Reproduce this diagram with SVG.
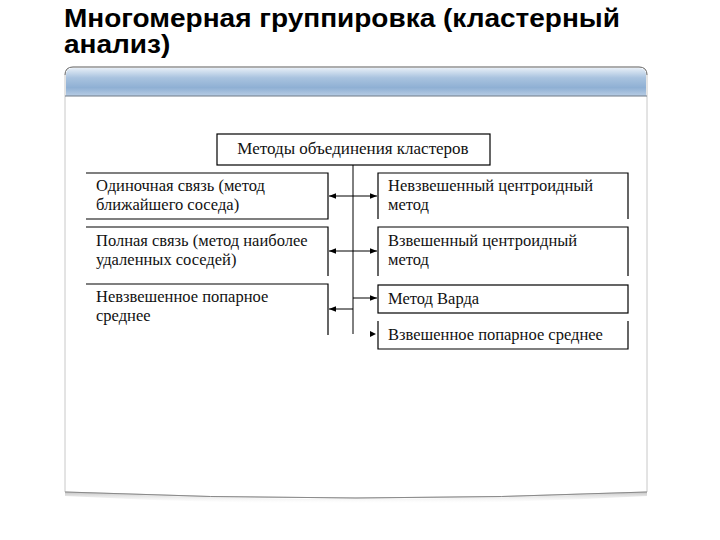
<svg xmlns="http://www.w3.org/2000/svg" width="720" height="540" viewBox="0 0 720 540">
<defs>
<linearGradient id="hdr" x1="0" y1="0" x2="0" y2="1">
<stop offset="0" stop-color="#e6eef7"/>
<stop offset="0.35" stop-color="#a9c3df"/>
<stop offset="0.7" stop-color="#8fb0d4"/>
<stop offset="1" stop-color="#b7cce4"/>
</linearGradient>
<linearGradient id="shd" x1="0" y1="0" x2="0" y2="1">
<stop offset="0" stop-color="#9a9a9a" stop-opacity="0.6"/>
<stop offset="1" stop-color="#ffffff" stop-opacity="0"/>
</linearGradient>
<marker id="ah" viewBox="0 0 10 10" refX="10" refY="5" markerWidth="7" markerHeight="7" markerUnits="userSpaceOnUse" orient="auto">
<path d="M0,1 L10,5 L0,9 Z" fill="#000"/>
</marker>
<style>
.t{font-family:"Liberation Serif","Times New Roman",serif;font-size:16.5px;fill:#111}
.b{fill:none;stroke:#000;stroke-width:1.2}
.c{fill:none;stroke:#000;stroke-width:1}
</style>
</defs>
<rect width="720" height="540" fill="#fff"/>
<g id="title" font-family="Liberation Sans, Arial, sans-serif" font-weight="bold" font-size="25" fill="#000" transform="translate(64,0) scale(1.12,1)">
<text x="0" y="27">Многомерная группировка (кластерный</text>
<text x="0" y="53">анализ)</text>
</g>
<g id="panel">
<path d="M65,492 Q356,506 647,492 L647,496 Q356,512 65,496 Z" fill="url(#shd)"/>
<path d="M65,75 Q65,67 73,67 L639,67 Q647,67 647,75 L647,492 Q356,504 65,492 Z" fill="#fff" stroke="#c8c8c8" stroke-width="1"/>
<path d="M65,492 Q356,504 647,492" fill="none" stroke="#8a8a8a" stroke-width="1"/>
<path d="M66,75 Q66,68 73,68 L639,68 Q646,68 646,75 L646,96 L66,96 Z" fill="url(#hdr)"/>
<path d="M65,75 Q65,67 73,67 L639,67 Q647,67 647,75" fill="none" stroke="#777" stroke-width="1"/>
<line x1="65" y1="96" x2="647" y2="96" stroke="#6f7b88" stroke-width="1.2"/>
</g>
<g id="top">
<rect class="b" x="217" y="134" width="273" height="31"/>
<text class="t" x="353" y="154" text-anchor="middle" style="font-size:17px">Методы объединения кластеров</text>
</g>
<g id="l1">
<path class="b" d="M86,173 L328,173 L328,219 L86,219"/>
<text class="t" x="96" y="191">Одиночная связь (метод</text>
<text class="t" x="96" y="210">ближайшего соседа)</text>
</g>
<g id="l2">
<path class="b" d="M86,227 L328,227 L328,276"/>
<text class="t" x="96" y="246">Полная связь (метод наиболее</text>
<text class="t" x="96" y="265">удаленных соседей)</text>
</g>
<g id="l3">
<path class="b" d="M86,284 L328,284 L328,335"/>
<text class="t" x="96" y="302">Невзвешенное попарное</text>
<text class="t" x="96" y="321">среднее</text>
</g>
<g id="r1">
<path class="b" d="M378,219 L378,173 L628,173 L628,219"/>
<text class="t" x="388" y="191">Невзвешенный центроидный</text>
<text class="t" x="388" y="210">метод</text>
</g>
<g id="r2">
<path class="b" d="M378,276 L378,227 L628,227 L628,276"/>
<text class="t" x="388" y="246">Взвешенный центроидный</text>
<text class="t" x="388" y="265">метод</text>
</g>
<g id="r3">
<rect class="b" x="378" y="285" width="250" height="28"/>
<text class="t" x="388" y="304">Метод Варда</text>
</g>
<g id="r4">
<path class="b" d="M378,321 L378,349 L628,349 L628,321"/>
<text class="t" x="388" y="340">Взвешенное попарное среднее</text>
</g>
<g id="connectors">
<line class="c" x1="353" y1="165" x2="353" y2="334"/>
<line class="c" x1="353" y1="196" x2="329" y2="196" marker-end="url(#ah)"/>
<line class="c" x1="353" y1="196" x2="377" y2="196" marker-end="url(#ah)"/>
<line class="c" x1="353" y1="251" x2="329" y2="251" marker-end="url(#ah)"/>
<line class="c" x1="353" y1="251" x2="377" y2="251" marker-end="url(#ah)"/>
<line class="c" x1="353" y1="298" x2="377" y2="298" marker-end="url(#ah)"/>
<line class="c" x1="353" y1="309" x2="329" y2="309" marker-end="url(#ah)"/>
<path d="M370,331 L376,334 L370,337 Z" fill="#000"/>
</g>
</svg>
